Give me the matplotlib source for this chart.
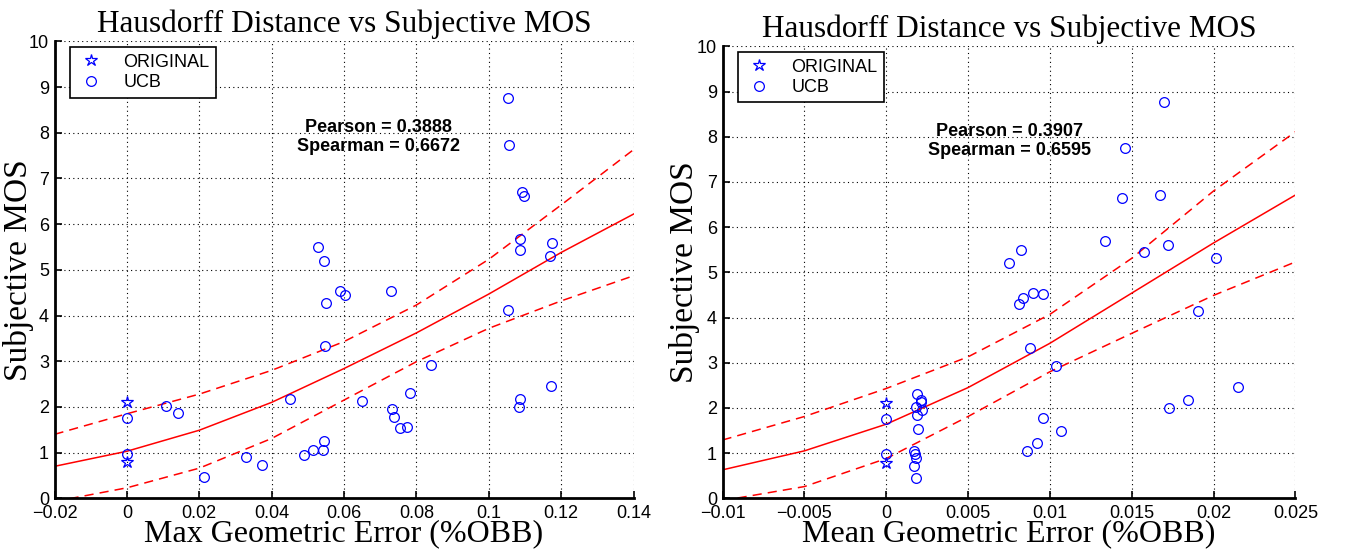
import matplotlib
matplotlib.use("Agg")
import matplotlib.pyplot as plt

# ---- data ----
orig_y = [2.10, 0.79]

max_err_orig = [0.0, 0.0]
max_err_ucb = [0.0, 0.0, 0.0107, 0.0140, 0.0214, 0.0330, 0.0372, 0.0451, 0.0489, 0.0513,
               0.0541, 0.0545, 0.0527, 0.0545, 0.0550, 0.0548, 0.0588, 0.0602, 0.0651, 0.0729,
               0.0733, 0.0737, 0.0755, 0.0774, 0.0783, 0.0841, 0.1053, 0.1055, 0.1054, 0.1093,
               0.1098, 0.1087, 0.1087, 0.1086, 0.1083, 0.1176, 0.1169, 0.1172]
max_mos_ucb = [1.76, 0.98, 2.01, 1.86, 0.46, 0.90, 0.74, 2.17, 0.95, 1.05,
               1.05, 1.25, 5.49, 5.20, 4.28, 3.33, 4.53, 4.44, 2.14, 4.53,
               1.95, 1.79, 1.53, 1.55, 2.30, 2.92, 8.77, 7.73, 4.13, 6.70,
               6.62, 5.67, 5.43, 2.17, 1.99, 5.59, 5.30, 2.46]

mean_err_orig = [0.0, 0.0]
mean_err_ucb = [0.0, 0.0, 0.0019, 0.00213, 0.0021, 0.00184, 0.00219, 0.00186, 0.00192, 0.0017,
                0.00175, 0.0018, 0.00167, 0.00184, 0.01697, 0.01456, 0.01438, 0.01673, 0.01338, 0.00823,
                0.00748, 0.01722, 0.01575, 0.02018, 0.00833, 0.00809, 0.00899, 0.0096, 0.01907, 0.00878,
                0.01036, 0.02149, 0.01846, 0.0173, 0.0096, 0.0107, 0.0092, 0.0086]
mean_mos_ucb = [1.75, 0.98, 2.30, 2.17, 2.13, 2.02, 1.95, 1.85, 1.53, 1.05,
                0.97, 0.89, 0.72, 0.46, 8.77, 7.75, 6.64, 6.71, 5.69, 5.50,
                5.21, 5.60, 5.45, 5.31, 4.44, 4.29, 4.54, 4.53, 4.14, 3.33,
                2.93, 2.46, 2.17, 2.00, 1.77, 1.49, 1.23, 1.05]

# fitted curves (read at the x ticks)
max_fit_x = [-0.02, 0.0, 0.02, 0.04, 0.06, 0.08, 0.10, 0.12, 0.14]
max_fit = [0.70, 1.03, 1.49, 2.10, 2.84, 3.62, 4.47, 5.38, 6.22]
max_fit_hi = [1.40, 1.85, 2.28, 2.80, 3.43, 4.23, 5.23, 6.42, 7.63]
max_fit_lo = [-0.07, 0.23, 0.66, 1.31, 2.15, 2.99, 3.72, 4.32, 4.87]

mean_fit_x = [-0.01, -0.005, 0.0, 0.005, 0.01, 0.015, 0.02, 0.025]
mean_fit = [0.63, 1.05, 1.64, 2.45, 3.43, 4.54, 5.65, 6.71]
mean_fit_hi = [1.29, 1.81, 2.43, 3.13, 4.07, 5.31, 6.80, 8.11]
mean_fit_lo = [-0.05, 0.26, 0.88, 1.81, 2.80, 3.65, 4.49, 5.23]

max_ticks = [-0.02, 0.0, 0.02, 0.04, 0.06, 0.08, 0.10, 0.12, 0.14]
max_ticklabels = ["\u22120.02", "0", "0.02", "0.04", "0.06", "0.08", "0.1", "0.12", "0.14"]
mean_ticks = [-0.01, -0.005, 0.0, 0.005, 0.01, 0.015, 0.02, 0.025]
mean_ticklabels = ["\u22120.01", "\u22120.005", "0", "0.005", "0.01", "0.015", "0.02", "0.025"]

SANS = "Liberation Sans"
SERIF = "Liberation Serif"


def draw_panel(ax, x_orig, x_ucb, y_ucb, fx, f, fhi, flo, ticks, ticklabels,
               xlabel, pearson, spearman, text_x, xlab_y, ylab_x):
    ax.plot(fx, f, color="red", lw=1.1)
    ax.plot(fx, fhi, color="red", lw=1.1, dashes=(6, 4))
    ax.plot(fx, flo, color="red", lw=1.1, dashes=(6, 4))
    ax.plot(x_orig, orig_y, ls="none", marker="*", ms=9, mfc="none", mec="blue",
            mew=0.9, label="ORIGINAL")
    ax.plot(x_ucb, y_ucb, ls="none", marker="o", ms=7, mfc="none", mec="blue",
            mew=0.9, label="UCB")

    ax.set_xlim(ticks[0], ticks[-1])
    ax.set_ylim(0, 10)
    ax.set_xticks(ticks)
    ax.set_xticklabels(ticklabels, family=SANS, fontsize=13)
    ax.set_yticks(range(11))
    ax.set_yticklabels([str(i) for i in range(11)], family=SANS, fontsize=13)
    ax.tick_params(direction="in", length=5, width=1.2)
    ax.tick_params(axis="x", pad=5)
    ax.tick_params(axis="y", pad=4)
    ax.grid(True, color="black", ls=(0, (1, 3)), lw=0.8)
    ax.set_axisbelow(True)
    for s in ["top", "right"]:
        ax.spines[s].set_visible(False)
    for s in ["left", "bottom"]:
        ax.spines[s].set_linewidth(2)

    ax.set_title("Hausdorff Distance vs Subjective MOS", family=SERIF, fontsize=22.5, pad=7)
    ax.set_xlabel(xlabel, family=SERIF, fontsize=23)
    ax.xaxis.set_label_coords(0.5, xlab_y)
    ax.set_ylabel("Subjective MOS", family=SERIF, fontsize=24)
    ax.yaxis.set_label_coords(ylab_x, 0.5)

    ax.text(text_x, 8.12, "Pearson = " + pearson, family=SANS, fontweight="bold",
            fontsize=13, ha="center", va="center")
    ax.text(text_x, 7.69, "Spearman = " + spearman, family=SANS, fontweight="bold",
            fontsize=13, ha="center", va="center")

    leg = ax.legend(loc="upper left", bbox_to_anchor=(0.027, 0.987), borderaxespad=0,
                    prop={"family": SANS, "size": 13},
                    fancybox=False, edgecolor="black", framealpha=1, handletextpad=1.0,
                    borderpad=0.35, labelspacing=0.2, handlelength=1.6)
    leg.get_frame().set_linewidth(1.2)


fig = plt.figure(figsize=(13.46, 5.51), dpi=100)
ax1 = fig.add_axes([0.0405, 0.0956, 0.4302, 0.8294])
ax2 = fig.add_axes([0.5368, 0.0956, 0.4256, 0.8203])

draw_panel(ax1, max_err_orig, max_err_ucb, max_mos_ucb, max_fit_x, max_fit, max_fit_hi, max_fit_lo,
           max_ticks, max_ticklabels, "Max Geometric Error (%OBB)", "0.3888", "0.6672", 0.0694,
           -0.045, -0.036)
draw_panel(ax2, mean_err_orig, mean_err_ucb, mean_mos_ucb, mean_fit_x, mean_fit, mean_fit_hi, mean_fit_lo,
           mean_ticks, mean_ticklabels, "Mean Geometric Error (%OBB)", "0.3907", "0.6595", 0.00754,
           -0.0455, -0.039)

fig.savefig("out.png", dpi=100)
